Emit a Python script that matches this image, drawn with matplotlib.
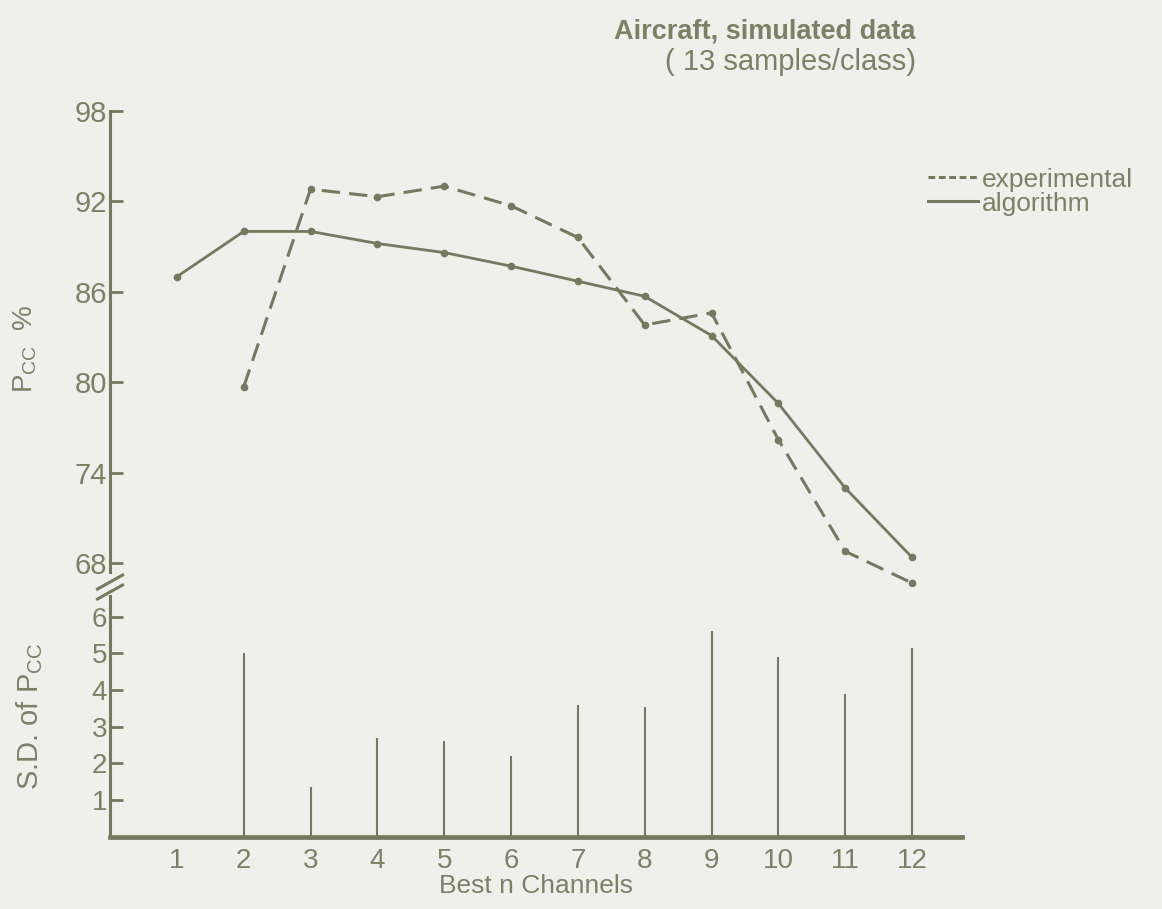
import numpy as np
import matplotlib.pyplot as plt
from matplotlib.lines import Line2D

plt.rcParams['font.family'] = ['Liberation Sans', 'DejaVu Sans']
plt.rcParams['mathtext.fontset'] = 'custom'
plt.rcParams['mathtext.rm'] = 'Liberation Sans'
plt.rcParams['mathtext.it'] = 'Liberation Sans'

# Pcc (%) against number of best channels
channels = np.arange(1, 13)
algorithm = [87.0, 90.0, 90.0, 89.2, 88.6, 87.7, 86.7, 85.7, 83.1, 78.6, 73.0, 68.4]
exp_channels = np.arange(2, 13)
experimental = [79.7, 92.8, 92.3, 93.0, 91.7, 89.6, 83.8, 84.6, 76.2, 68.8, 66.7]

# standard deviation of Pcc
sd_channels = np.arange(2, 13)
sd_pcc = [5.0, 1.35, 2.7, 2.6, 2.2, 3.6, 3.55, 5.6, 4.9, 3.9, 5.15]

top_ticks = [68, 74, 80, 86, 92, 98]
sd_ticks = [1, 2, 3, 4, 5, 6]

ink = '#76785f'
txt = '#7e8066'
bg = '#efefec'

fig = plt.figure(figsize=(11.62, 9.09), dpi=100, facecolor=bg)
ax = fig.add_axes([0.0947, 0.3553, 0.7333, 0.5229], facecolor='none')
ax2 = fig.add_axes([0.0947, 0.0795, 0.7333, 0.2651], facecolor='none')

ax.plot(channels, algorithm, color=ink, lw=2.0, marker='o', ms=4.5,
        label='algorithm')
ax.plot(exp_channels, experimental, color=ink, lw=2.2, marker='o', ms=4.5,
        dashes=(6, 3), label='_exp')
ax.set_xlim(0, 12.75)
ax.set_ylim(66.5, 98)
ax.set_yticks(top_ticks)
ax.set_xticks([])
for s in ['top', 'right', 'bottom']:
    ax.spines[s].set_visible(False)
ax.spines['left'].set_color(ink)
ax.spines['left'].set_linewidth(2.2)
ax.spines['left'].set_bounds(67.42, 98)
ax.tick_params(axis='y', direction='in', length=9, width=2, color=ink,
               labelsize=21, labelcolor=txt, pad=2)
ax.set_ylabel(r'P$_{\mathrm{CC}}$  %', fontsize=20, color=txt, labelpad=26)

# break marks on the y axis
for yb in (0.0084, -0.0126):
    ax.plot([-0.0147, 0.0147], [yb - 0.0147, yb + 0.0147],
            transform=ax.transAxes, color=ink, lw=2.2, clip_on=False)

handles = [Line2D([], [], color=ink, lw=2.2, dashes=(2.2, 1.2)),
           Line2D([], [], color=ink, lw=2.2)]
fig.legend(handles, ['experimental', 'algorithm'], loc='upper left',
           bbox_to_anchor=(0.787, 0.83), frameon=False, fontsize=19,
           handlelength=1.9, handletextpad=0.15, labelspacing=0.0,
           borderpad=0, labelcolor=txt)

fig.text(0.788, 0.965, 'Aircraft, simulated data', ha='right', va='center',
         fontsize=19.5, fontweight='bold', color=txt)
fig.text(0.788, 0.932, '( 13 samples/class)', ha='right', va='center',
         fontsize=21, color=txt)

ax2.vlines(sd_channels, 0, sd_pcc, color=ink, lw=1.5)
ax2.set_xlim(0, 12.75)
ax2.set_ylim(0, 6.57)
ax2.set_xticks(channels)
ax2.set_yticks(sd_ticks)
ax2.spines['top'].set_visible(False)
ax2.spines['right'].set_visible(False)
ax2.spines['left'].set_color(ink)
ax2.spines['left'].set_linewidth(2.2)
ax2.spines['bottom'].set_color(ink)
ax2.spines['bottom'].set_linewidth(3.4)
ax2.tick_params(axis='y', direction='in', length=9, width=2, color=ink,
                labelsize=20, labelcolor=txt, pad=2)
ax2.tick_params(axis='x', length=0, labelsize=20, labelcolor=txt, pad=8)
ax2.set_xlabel('Best n Channels', fontsize=19, color=txt, labelpad=0)
ax2.set_ylabel(r'S.D. of P$_{\mathrm{CC}}$', fontsize=21, color=txt, labelpad=34)

fig.savefig('out.png', dpi=100, facecolor=bg)
